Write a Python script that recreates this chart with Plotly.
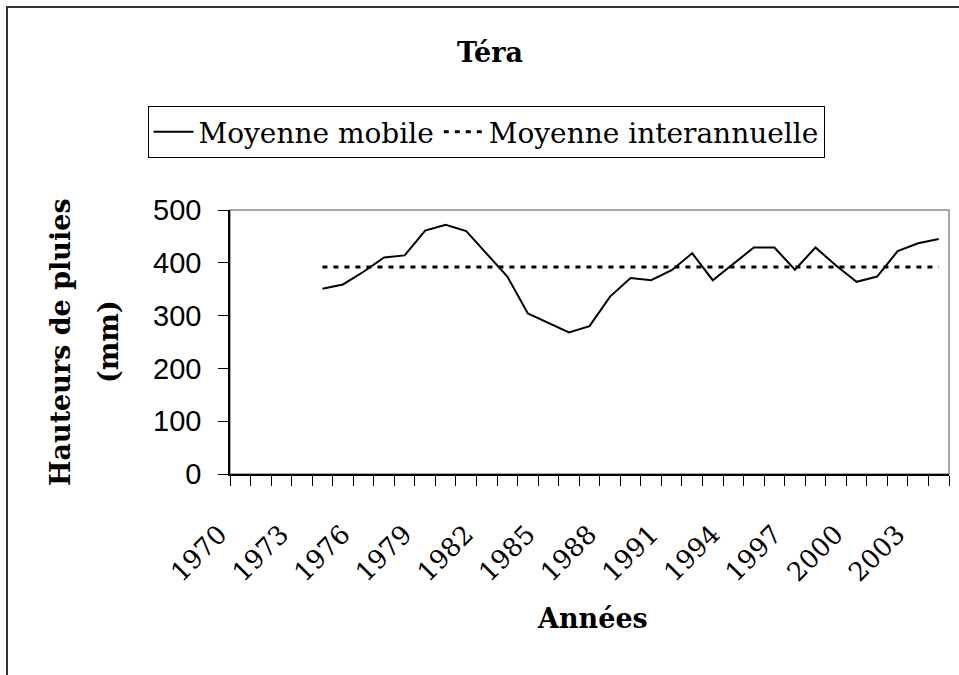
import plotly.graph_objects as go

# ---- data ----
years = list(range(1970, 2005))
moving_avg_years = list(range(1974, 2005))
moving_avg = [351, 359, 383, 410, 414, 461, 472, 460, 417, 374, 304, 286, 268, 280,
              336, 371, 367, 386, 418, 367, 398, 429, 429, 387, 429, 395, 364, 374,
              422, 437, 445]
interannual_mean = 392
mean_values = [interannual_mean] * len(moving_avg_years)
tick_years = list(range(1970, 2004, 3))
tick_labels = [str(y) for y in tick_years]

SERIF = "DejaVu Serif"
SANS = "Liberation Sans, Arial"

W, H = 959, 675
L, R, T, B = 230, 10, 210, 201
pw, ph = W - L - R, H - T - B

def px_x(x):
    return (x - L) / pw

def px_y(y):
    return (H - B - y) / ph

fig = go.Figure()
fig.add_trace(go.Scatter(
    x=moving_avg_years, y=moving_avg, mode="lines", name="Moyenne mobile",
    line=dict(color="black", width=2)))
fig.add_trace(go.Scatter(
    x=moving_avg_years, y=mean_values, mode="lines", name="Moyenne interannuelle",
    line=dict(color="black", width=3, dash="5px,6px")))

fig.update_layout(
    width=W, height=H,
    margin=dict(l=L, r=R, t=T, b=B, autoexpand=False),
    paper_bgcolor="white", plot_bgcolor="white",
    showlegend=True,
    title=dict(text="<b>Téra</b>", x=490 / W, xref="container", xanchor="center",
               y=1 - 53 / H, yref="container", yanchor="middle",
               font=dict(family=SERIF, size=27, color="black")),
    legend=dict(orientation="h", xref="container", yref="container",
                x=486 / W, xanchor="center", y=1 - 132 / H, yanchor="middle",
                bordercolor="black", borderwidth=1, bgcolor="white",
                font=dict(family=SERIF, size=28, color="black"),
                itemwidth=40, tracegroupgap=0),
    xaxis=dict(range=[1969.5, 2004.5], tickmode="array", tickvals=tick_years,
               ticktext=tick_labels, tickangle=-45, ticks="", ticklen=0,
               showgrid=False, zeroline=False, showline=True, linecolor="black",
               linewidth=1.5, ticklabelstandoff=33, ticklabelshift=-21,
               tickfont=dict(family=SERIF, size=26, color="black"),
               minor=dict(ticks="outside", tick0=1969.5, dtick=1, ticklen=10,
                          tickcolor="black", tickwidth=1, showgrid=False)),
    yaxis=dict(range=[0, 500], tickmode="linear", tick0=0, dtick=100,
               ticks="outside", ticklen=10, tickcolor="black",
               showgrid=False, zeroline=False, showline=True, linecolor="black",
               linewidth=1.5, ticklabelstandoff=11,
               tickfont=dict(family=SANS, size=29, color="black")),
    shapes=[
        dict(type="rect", xref="paper", yref="paper", x0=0, x1=1, y0=0, y1=1,
             line=dict(color="#8c8c8c", width=1.5), layer="below"),
        dict(type="rect", xref="paper", yref="paper",
             x0=px_x(7), x1=px_x(W + 20), y0=px_y(7), y1=px_y(H + 20),
             line=dict(color="#333333", width=2), layer="below"),
    ],
    annotations=[
        dict(text="<b>Hauteurs de pluies</b>", textangle=-90,
             xref="paper", yref="paper", x=px_x(60), y=0.5,
             xanchor="center", yanchor="middle", showarrow=False,
             font=dict(family=SERIF, size=27, color="black")),
        dict(text="<b>(mm)</b>", textangle=-90,
             xref="paper", yref="paper", x=px_x(108), y=0.5,
             xanchor="center", yanchor="middle", showarrow=False,
             font=dict(family=SERIF, size=27, color="black")),
        dict(text="<b>Années</b>", xref="paper", yref="paper",
             x=px_x(592), y=px_y(618), xanchor="center", yanchor="middle",
             showarrow=False, font=dict(family=SERIF, size=27, color="black")),
    ],
)

fig.write_html("out.html", config={"displayModeBar": False},
               post_script="document.body.style.margin='0';document.body.style.overflow='hidden';")
